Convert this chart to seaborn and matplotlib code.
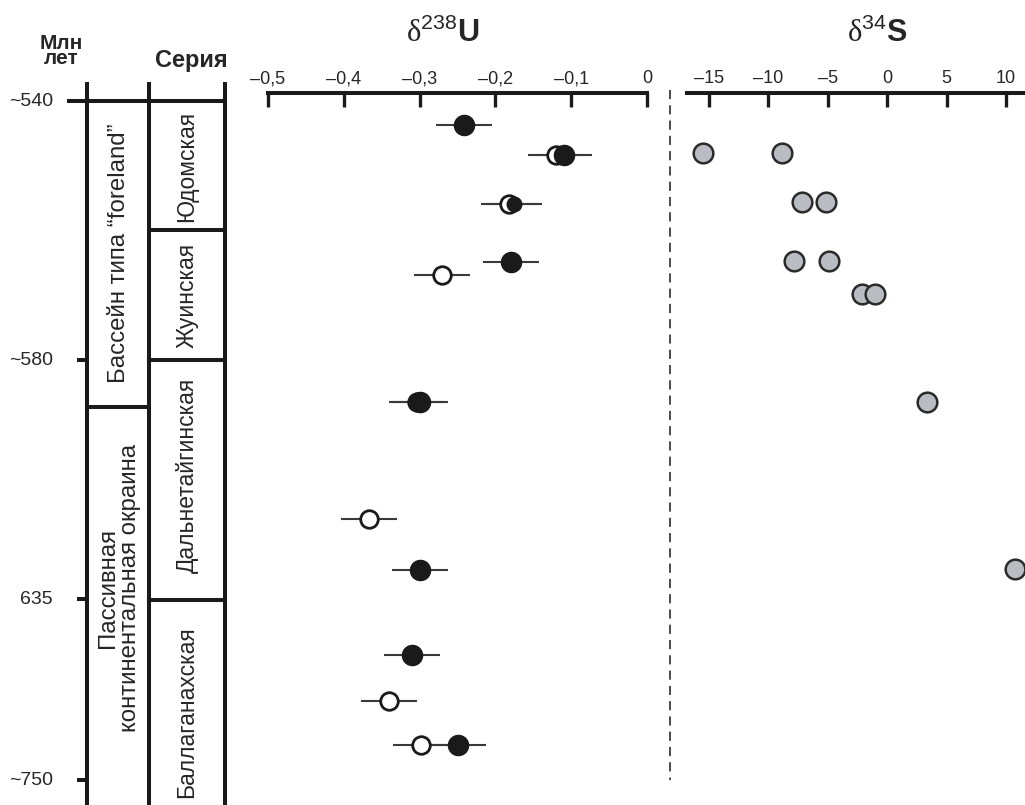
import matplotlib
matplotlib.use("Agg")
import matplotlib.pyplot as plt
import numpy as np
import pandas as pd
import seaborn as sns

# ── Data ──────────────────────────────────────────────────────────────────────
# vertical position in the section (0 = top of sheet, grows downward)
u_pos = [125, 155, 155, 204, 204, 262, 275, 402, 402, 519, 570, 655, 701, 745, 745]
u_val = [-0.241, -0.120, -0.110, -0.182, -0.175, -0.180, -0.270, -0.303, -0.300,
         -0.367, -0.300, -0.310, -0.340, -0.298, -0.249]
u_kind = ["filled", "open", "filled", "open", "small", "filled", "open", "open", "filled",
          "open", "filled", "filled", "open", "open", "filled"]
u_err = 0.037

s_pos = [153, 153, 202, 202, 261, 261, 294, 294, 402, 569]
s_val = [-15.5, -8.85, -7.2, -5.15, -7.85, -4.9, -2.1, -1.0, 3.35, 10.75]

u_ticks = [-0.5, -0.4, -0.3, -0.2, -0.1, 0]
u_ticklabels = ["\u20130,5", "\u20130,4", "\u20130,3", "\u20130,2", "\u20130,1", "0"]
s_ticks = [-15, -10, -5, 0, 5, 10]
s_ticklabels = ["\u201315", "\u201310", "\u20135", "0", "5", "10"]

age_labels = ["~540", "~580", "635", "~750"]
age_pos = [101, 360, 599, 780]

series_names = ["Юдомская", "Жуинская", "Дальнетайгинская", "Баллаганахская"]
series_top = [101, 230, 360, 600]
series_bot = [230, 360, 600, 805]
series_text_y = [166, 295, 475, 712]

basin_names = ["Бассейн типа \u201cforeland\u201d", "Пассивная\nконтинентальная окраина"]
basin_top = [101, 407]
basin_bot = [407, 805]
basin_text_y = [253, 588]

# ── Style ─────────────────────────────────────────────────────────────────────
sns.set_style("white")
plt.rcParams["font.family"] = ["Liberation Sans", "DejaVu Sans"]
plt.rcParams["mathtext.fontset"] = "custom"
plt.rcParams["mathtext.rm"] = "Liberation Serif"
plt.rcParams["mathtext.sf"] = "Liberation Sans"
plt.rcParams["mathtext.bf"] = "Liberation Sans:bold"

INK = "#1a1a1a"
W, H = 1025, 805
TOP = 93          # y of the top axes lines
LW = 2.9

fig = plt.figure(figsize=(W / 100, H / 100), dpi=100)

# background axes in sheet coordinates for the stratigraphic column
bg = fig.add_axes([0, 0, 1, 1])
bg.set_xlim(0, W)
bg.set_ylim(H, 0)
bg.axis("off")

XL, XM, XR = 87, 149, 225
for x in (XL, XM, XR):
    bg.plot([x, x], [82, H], color=INK, lw=LW, solid_capstyle="butt")
for lab, y in zip(age_labels, age_pos):
    x0 = 67 if lab == "~540" else 77
    x1 = XR if lab == "~540" else XL
    bg.plot([x0, x1], [y, y], color=INK, lw=LW, solid_capstyle="butt")
    bg.text(53, y, lab, ha="right", va="center", fontsize=14)
for t in series_top[1:]:
    bg.plot([XM, XR], [t, t], color=INK, lw=LW, solid_capstyle="butt")
for t in basin_top[1:]:
    bg.plot([XL, XM], [t, t], color=INK, lw=LW, solid_capstyle="butt")

for name, yc in zip(series_names, series_text_y):
    bg.text(187, yc, name, rotation=90, ha="center", va="center", fontsize=16.5)
for name, yc in zip(basin_names, basin_text_y):
    bg.text(119, yc, name, rotation=90, ha="center", va="center",
            fontsize=17.3, multialignment="center", linespacing=0.95)

bg.text(61, 68, "Млн\nлет", ha="center", va="bottom", fontsize=15, fontweight="bold",
        linespacing=0.75)
bg.text(191, 67, "Серия", ha="center", va="baseline", fontsize=17, fontweight="bold")

bg.plot([670, 670], [90, 780], color=INK, lw=1.1, ls=(0, (6, 4)))

bg.text(443, 42, r"$\mathrm{\delta}^{\mathsf{238}}\mathbf{U}$", ha="center", va="baseline", fontsize=22)
bg.text(877, 42, r"$\mathrm{\delta}^{\mathsf{34}}\mathbf{S}$", ha="center", va="baseline", fontsize=22)


def top_axis(ax, ticks, labels):
    for side in ("bottom", "left", "right"):
        ax.spines[side].set_visible(False)
    ax.spines["top"].set_linewidth(LW)
    ax.spines["top"].set_color(INK)
    ax.xaxis.tick_top()
    ax.set_xticks(ticks)
    ax.set_xticklabels(labels, fontsize=13)
    ax.tick_params(axis="x", direction="in", length=10, width=2.4, color=INK, pad=4)
    ax.set_yticks([])
    ax.set_ylim(H, TOP)
    ax.set_xlabel("")
    ax.set_ylabel("")
    ax.patch.set_alpha(0)


# ── δ238U panel ───────────────────────────────────────────────────────────────
ax_u = fig.add_axes([268 / W, 0, (647 - 268) / W, (H - TOP) / H])
du = pd.DataFrame({"pos": u_pos, "val": u_val, "kind": u_kind})
ax_u.hlines(du["pos"], du["val"] - u_err, du["val"] + u_err, color="#3a3a3a", lw=1.5, zorder=1)
sns.scatterplot(data=du[du["kind"] == "open"], x="val", y="pos", ax=ax_u, s=160,
                color="white", edgecolor=INK, linewidth=2, zorder=2, legend=False)
sns.scatterplot(data=du[du["kind"] == "filled"], x="val", y="pos", ax=ax_u, s=210,
                color=INK, edgecolor=INK, linewidth=1, zorder=3, legend=False)
sns.scatterplot(data=du[du["kind"] == "small"], x="val", y="pos", ax=ax_u, s=110,
                color=INK, edgecolor=INK, linewidth=1, zorder=3, legend=False)
ax_u.set_xlim(-0.5, 0)
top_axis(ax_u, u_ticks, u_ticklabels)

# ── δ34S panel ────────────────────────────────────────────────────────────────
ax_s = fig.add_axes([687 / W, 0, (W - 687) / W, (H - TOP) / H])
ds = pd.DataFrame({"pos": s_pos, "val": s_val})
sns.scatterplot(data=ds, x="val", y="pos", ax=ax_s, s=200, color="#b9bcc3",
                edgecolor="#2a2a2a", linewidth=1.8, zorder=3, legend=False, clip_on=False)
ax_s.set_xlim(-16.85, 11.6)
top_axis(ax_s, s_ticks, s_ticklabels)

fig.savefig("out.png", dpi=100)
